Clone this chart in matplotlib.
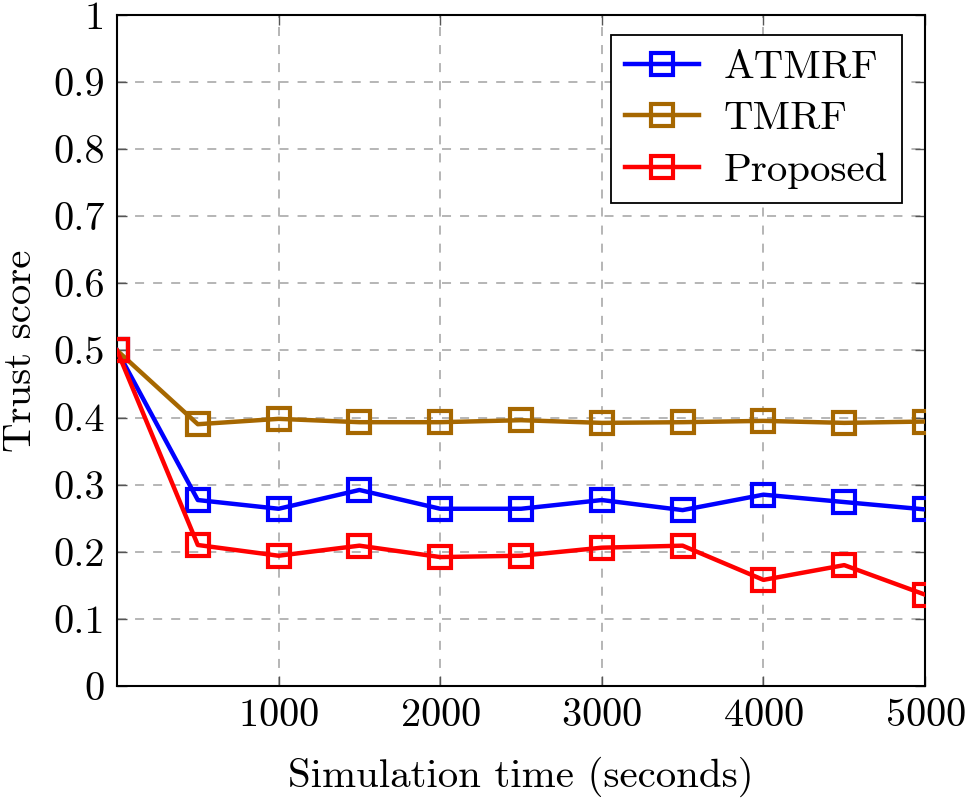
import matplotlib
matplotlib.use("Agg")
import matplotlib.pyplot as plt

plt.rcParams['font.family'] = ['cmr10', 'DejaVu Serif']
plt.rcParams['mathtext.fontset'] = 'cm'
plt.rcParams['axes.formatter.use_mathtext'] = True

time_s = [0, 500, 1000, 1500, 2000, 2500, 3000, 3500, 4000, 4500, 5000]
atmrf = [0.5, 0.277, 0.264, 0.292, 0.264, 0.264, 0.277, 0.262, 0.285, 0.274, 0.263]
tmrf = [0.5, 0.390, 0.398, 0.393, 0.393, 0.396, 0.392, 0.393, 0.395, 0.392, 0.394]
proposed = [0.5, 0.210, 0.194, 0.209, 0.192, 0.194, 0.206, 0.209, 0.158, 0.180, 0.136]

series_names = ['ATMRF', 'TMRF', 'Proposed']
colors = ['#0000ff', '#a66700', '#ff0000']

fig = plt.figure(figsize=(9.67, 8.06), dpi=100)
ax = fig.add_axes([0.121, 0.149, 0.8356, 0.8325])

for vals, name, c in zip([atmrf, tmrf, proposed], series_names, colors):
    ax.plot(time_s, vals, color=c, lw=3.2, marker='s', markersize=16.5,
            markerfacecolor='none', markeredgecolor=c, markeredgewidth=3.0,
            label=name, zorder=3)

ax.set_xlim(0, 5000)
ax.set_ylim(0, 1)
ax.set_xticks([1000, 2000, 3000, 4000, 5000])
ax.set_yticks([i / 10 for i in range(11)])
ax.set_yticklabels(['0', '0.1', '0.2', '0.3', '0.4', '0.5', '0.6', '0.7', '0.8', '0.9', '1'])
ax.tick_params(direction='in', length=7, width=1.0, labelsize=29, pad=9,
               top=True, right=True, color='#555555')
ax.grid(True, ls=(0, (5, 5)), color='#b0b0b0', lw=1.3)
for s in ax.spines.values():
    s.set_linewidth(1.5)
ax.set_xlabel('Simulation time (seconds)', fontsize=29.5, labelpad=16)
ax.set_ylabel('Trust score', fontsize=29.5, labelpad=10)

leg = ax.legend(loc='upper right', fontsize=29.5, fancybox=False, framealpha=1,
                edgecolor='black', handlelength=1.8, borderpad=0.35,
                labelspacing=0.36, handletextpad=0.6, borderaxespad=0,
                bbox_to_anchor=(0.9715, 0.97))
leg.get_frame().set_linewidth(1.3)

fig.savefig('out.png', dpi=100)
